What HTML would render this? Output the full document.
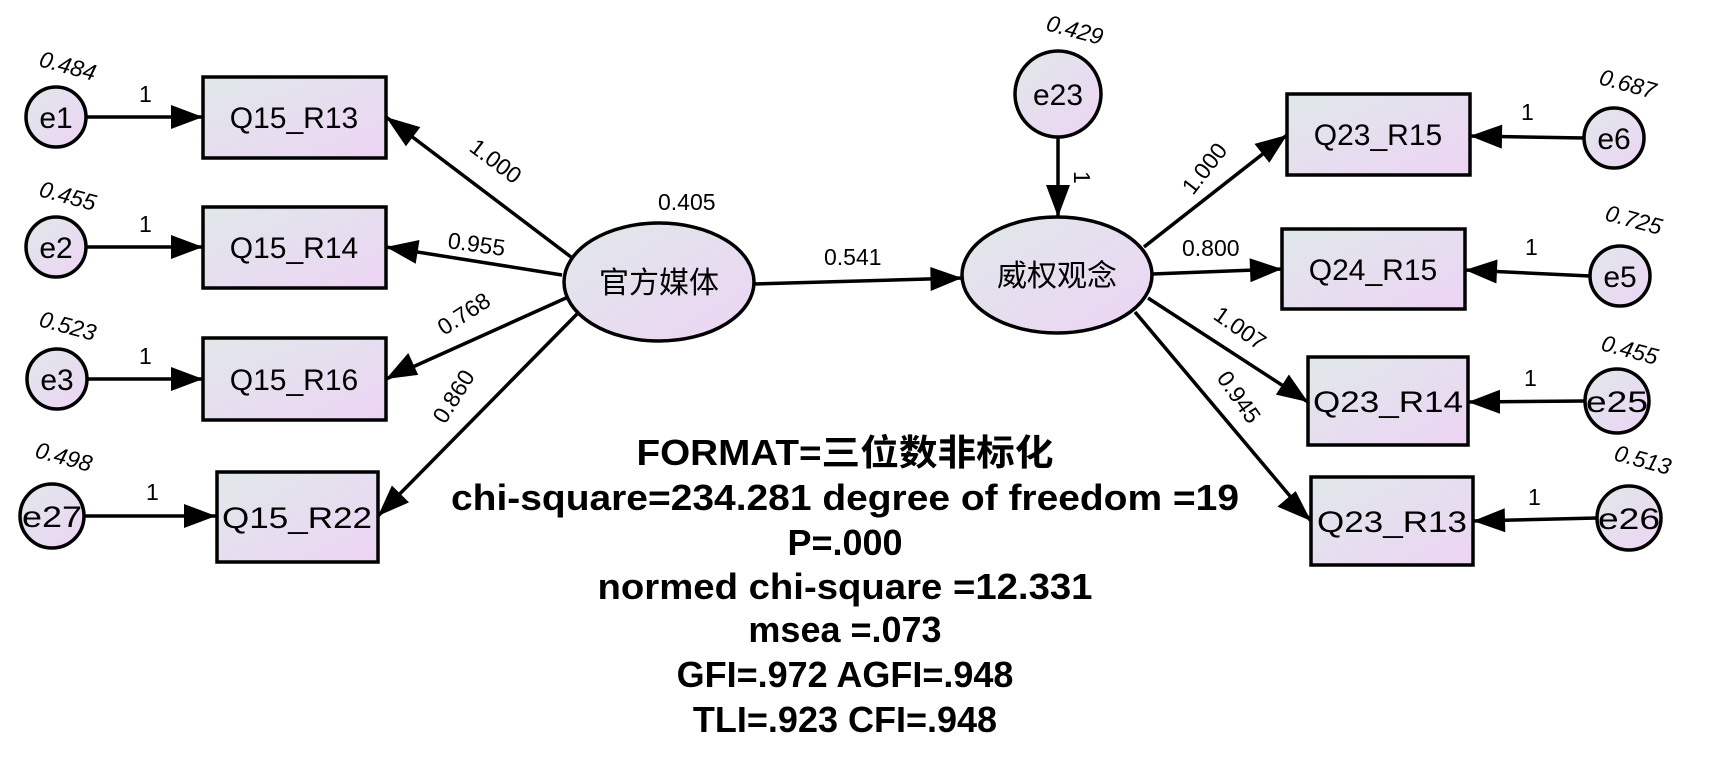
<!DOCTYPE html>
<html><head><meta charset="utf-8"><style>
html,body{margin:0;padding:0;background:#fff;}
svg{display:block;}
.b{font-family:"Liberation Sans","Noto Sans CJK SC",sans-serif;font-size:30px;fill:#000;}
.i{font-family:"Liberation Sans",sans-serif;font-size:23px;font-style:italic;fill:#000;}
.n{font-family:"Liberation Sans",sans-serif;font-size:23px;fill:#000;}
.t{font-family:"Liberation Sans","Noto Sans CJK SC",sans-serif;font-size:36px;font-weight:bold;fill:#000;}
</style></head><body>
<svg id="s" width="1710" height="761" viewBox="0 0 1710 761" xmlns="http://www.w3.org/2000/svg">
<defs>
<linearGradient id="g" x1="0" y1="0" x2="1" y2="1">
<stop offset="0" stop-color="#e0e8ea"/><stop offset="1" stop-color="#edd4f4"/>
</linearGradient>
</defs>
<g stroke="#000" stroke-width="3.5" fill="none">
<line x1="571" y1="257" x2="386" y2="117"/>
<line x1="562" y1="275" x2="386" y2="247"/>
<line x1="566" y1="298" x2="386" y2="379"/>
<line x1="578" y1="313" x2="378" y2="516"/>
<line x1="754" y1="284" x2="962" y2="278"/>
<line x1="1144" y1="247" x2="1287" y2="135"/>
<line x1="1152" y1="274" x2="1282" y2="269"/>
<line x1="1148" y1="298" x2="1308" y2="402"/>
<line x1="1135" y1="312" x2="1311" y2="521"/>
<line x1="1058" y1="137" x2="1058" y2="217"/>
<line x1="86" y1="117" x2="203" y2="117"/>
<line x1="86" y1="247" x2="203" y2="247"/>
<line x1="86" y1="379" x2="203" y2="379"/>
<line x1="84" y1="516" x2="216" y2="516"/>
<line x1="1584" y1="138" x2="1470" y2="136"/>
<line x1="1590" y1="276" x2="1465" y2="270"/>
<line x1="1585" y1="401" x2="1468" y2="402"/>
<line x1="1597" y1="518" x2="1473" y2="521"/>
</g>
<g fill="#000">
<polygon points="386,117 405.9,146.3 420.3,127.1"/>
<polygon points="386,247 415.7,263.7 419.5,240.0"/>
<polygon points="386,379 408.3,353.0 418.2,374.9"/>
<polygon points="378,516 391.9,485.5 409.0,502.4"/>
<polygon points="962,278 930.3,267.0 930.7,291.0"/>
<polygon points="1287,135 1254.5,143.9 1269.3,162.8"/>
<polygon points="1282,269 1249.6,258.3 1250.5,282.2"/>
<polygon points="1308,402 1288.9,374.5 1275.9,394.6"/>
<polygon points="1311,521 1295.7,491.1 1277.4,506.6"/>
<polygon points="1058,217 1046,185 1070,185"/>
<polygon points="203,117 171,105 171,129"/>
<polygon points="203,247 171,235 171,259"/>
<polygon points="203,379 171,367 171,391"/>
<polygon points="216,516 184,504 184,528"/>
<polygon points="1470,136 1502.2,124.6 1501.8,148.6"/>
<polygon points="1465,270 1497.5,259.5 1496.4,283.5"/>
<polygon points="1468,402 1500,389.8 1500,413.8"/>
<polygon points="1473,521 1504.7,508.2 1505.3,532.2"/>
</g>
<g stroke="#000" stroke-width="3.5" fill="url(#g)">
<rect x="203" y="77" width="183" height="81"/>
<rect x="203" y="207" width="183" height="81"/>
<rect x="203" y="338" width="183" height="82"/>
<rect x="217" y="472" width="161" height="90"/>
<rect x="1287" y="94" width="183" height="81"/>
<rect x="1282" y="229" width="183" height="80"/>
<rect x="1308" y="357" width="160" height="88"/>
<rect x="1311" y="477" width="162" height="88"/>
<ellipse cx="659" cy="282" rx="95" ry="59"/>
<ellipse cx="1057" cy="275" rx="95" ry="58"/>
<ellipse cx="1058" cy="94" rx="43" ry="43"/>
<circle cx="56" cy="117" r="30"/>
<circle cx="56" cy="247" r="30"/>
<circle cx="57" cy="379" r="30"/>
<circle cx="52" cy="516" r="32"/>
<circle cx="1614" cy="138" r="30"/>
<circle cx="1620" cy="276" r="30"/>
<circle cx="1617" cy="401" r="32"/>
<circle cx="1629" cy="518" r="32"/>
</g>
<g class="b" text-anchor="middle">
<text x="294" y="128">Q15_R13</text>
<text x="294" y="258">Q15_R14</text>
<text x="294" y="390">Q15_R16</text>
<text x="297" y="528" textLength="150" lengthAdjust="spacingAndGlyphs">Q15_R22</text>
<text x="1378" y="145">Q23_R15</text>
<text x="1373" y="280">Q24_R15</text>
<text x="1388" y="412" textLength="150" lengthAdjust="spacingAndGlyphs">Q23_R14</text>
<text x="1392" y="532" textLength="150" lengthAdjust="spacingAndGlyphs">Q23_R13</text>
<text x="659" y="293">官方媒体</text>
<text x="1057" y="286">威权观念</text>
<text x="1058" y="105">e23</text>
<text x="56" y="128">e1</text>
<text x="56" y="258">e2</text>
<text x="57" y="390">e3</text>
<text x="52" y="527" textLength="60" lengthAdjust="spacingAndGlyphs">e27</text>
<text x="1614" y="149">e6</text>
<text x="1620" y="287">e5</text>
<text x="1617" y="412" textLength="62" lengthAdjust="spacingAndGlyphs">e25</text>
<text x="1629" y="529" textLength="62" lengthAdjust="spacingAndGlyphs">e26</text>
</g>
<g class="i">
<text transform="translate(38,66) rotate(15)">0.484</text>
<text transform="translate(38,196) rotate(15)">0.455</text>
<text transform="translate(38,326) rotate(15)">0.523</text>
<text transform="translate(34,457) rotate(15)">0.498</text>
<text transform="translate(1045,30) rotate(15)">0.429</text>
<text transform="translate(1598,84) rotate(15)">0.687</text>
<text transform="translate(1604,220) rotate(15)">0.725</text>
<text transform="translate(1600,350) rotate(15)">0.455</text>
<text transform="translate(1613,460) rotate(15)">0.513</text>
</g>
<g class="n">
<text x="658" y="210">0.405</text>
<text transform="translate(468,150) rotate(37)">1.000</text>
<text transform="translate(447,248) rotate(8)">0.955</text>
<text transform="translate(444,336) rotate(-33)">0.768</text>
<text transform="translate(445,425) rotate(-58)">0.860</text>
<text x="824" y="265">0.541</text>
<text transform="translate(1193,196) rotate(-52)">1.000</text>
<text x="1182" y="256">0.800</text>
<text transform="translate(1212,318) rotate(35)">1.007</text>
<text transform="translate(1216,378) rotate(55)">0.945</text>
<text transform="translate(1074,171) rotate(90)">1</text>
<text x="139" y="102">1</text>
<text x="139" y="232">1</text>
<text x="139" y="364">1</text>
<text x="146" y="500">1</text>
<text x="1521" y="120">1</text>
<text x="1525" y="255">1</text>
<text x="1524" y="386">1</text>
<text x="1528" y="505">1</text>
</g>
<g class="t" text-anchor="middle">
<text x="845" y="465" textLength="417" lengthAdjust="spacingAndGlyphs">FORMAT=三位数非标化</text>
<text x="845" y="510" textLength="788" lengthAdjust="spacingAndGlyphs">chi-square=234.281  degree of freedom =19</text>
<text x="845" y="555">P=.000</text>
<text x="845" y="599" textLength="495" lengthAdjust="spacingAndGlyphs">normed chi-square =12.331</text>
<text x="845" y="642">msea =.073</text>
<text x="845" y="687">GFI=.972 AGFI=.948</text>
<text x="845" y="732">TLI=.923 CFI=.948</text>
</g>
</svg>
</body></html>
